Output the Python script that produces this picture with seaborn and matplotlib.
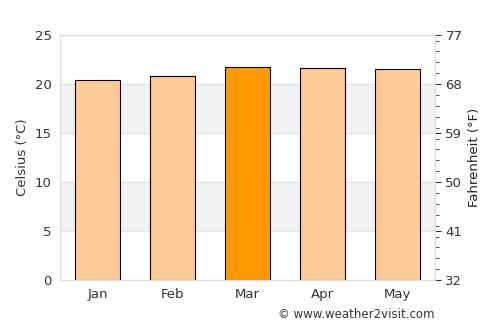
import numpy as np
import pandas as pd
import matplotlib
matplotlib.use("Agg")
import matplotlib.pyplot as plt
import seaborn as sns
from matplotlib.ticker import MultipleLocator

months = ["Jan", "Feb", "Mar", "Apr", "May"]
celsius = [20.4, 20.8, 21.7, 21.6, 21.5]
bar_colors = ["#ffcc99", "#ffcc99", "#ff9900", "#ffcc99", "#ffcc99"]
c_ticks = [0, 5, 10, 15, 20, 25]
f_ticks = [32, 41, 50, 59, 68, 77]

df = pd.DataFrame({"month": months, "celsius": celsius})

sns.set_style("white")
plt.rcParams['font.family'] = ['DejaVu Sans']

fig = plt.figure(figsize=(5, 3.25), dpi=100)
ax = fig.add_axes([0.12, 0.138, 0.75, 0.754])

# alternating bands
for lo in (5, 15):
    ax.axhspan(lo, lo + 5, color="#f2f2f2", zorder=0)
for t in c_ticks:
    ax.axhline(t, color="#e0e0e0", lw=0.8, zorder=0.5)

sns.barplot(data=df, x="month", y="celsius", hue="month", palette=bar_colors,
            saturation=1, width=0.6, edgecolor="black", linewidth=0.8,
            legend=False, ax=ax, zorder=2)

ax.set_ylim(0, 25)
ax.set_xlim(-0.5, 4.5)
ax.set_yticks(c_ticks)
ax.set_xlabel("")
ax.set_ylabel("Celsius (°C)", color="#333333", fontsize=9.5)
ax.tick_params(axis="both", colors="#333333", labelsize=9.5, length=0, pad=6)
for s in ax.spines.values():
    s.set_color("#dddddd")

ax2 = ax.twinx()
ax2.set_ylim(32, 77)
ax2.set_yticks(f_ticks)
ax2.yaxis.set_minor_locator(MultipleLocator(2))
ax2.tick_params(axis="y", which="major", length=4, color="#333333",
                labelcolor="#333333", labelsize=9.5)
ax2.tick_params(axis="y", which="minor", length=3, color="#333333")
ax2.set_ylabel("Fahrenheit (°F)", color="#222222", fontsize=9.5)
for s in ax2.spines.values():
    s.set_color("#dddddd")

fig.text(0.87, 0.012, "© www.weather2visit.com", ha="right", va="bottom",
         fontsize=8.5, color="#333333")

fig.savefig("out.png", dpi=100)
